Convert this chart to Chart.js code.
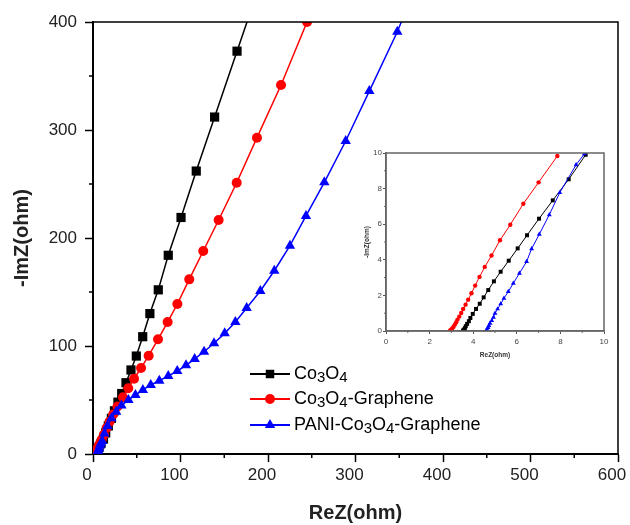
<!DOCTYPE html>
<html>
<head>
<meta charset="utf-8">
<script src="https://cdn.jsdelivr.net/npm/chart.js@4/dist/chart.umd.min.js"></script>
<style>
  html, body { margin: 0; padding: 0; background: #fff; }
  #wrap { position: relative; width: 630px; height: 525px; }
  #main { position: absolute; left: 0; top: 0; }
  #inset { position: absolute; left: 356px; top: 143px; }
</style>
</head>
<body>
<div id="wrap">
  <canvas id="main" width="630" height="525"></canvas>
  <canvas id="inset" width="254" height="222"></canvas>
</div>
<script>
// main plot, ohm
const co3o4Re = [3.6, 4.3, 5.3, 7.0, 9.2, 12, 14.5, 17.5, 21, 24.5, 28.5, 32.8, 37.7, 43.4, 49.5, 56.8, 65, 74.6, 86, 100.6, 118, 139, 164.6, 195];
const co3o4Im = [0.1, 1.5, 3.4, 6.3, 9.9, 14, 19.5, 26, 33, 40, 48, 56, 66, 77.8, 90.7, 108.6, 130, 152, 184, 219, 262, 312, 373, 445];

const grapheneRe = [2.9, 3.1, 3.5, 4.0, 4.5, 5.2, 6.3, 7.9, 10, 12.5, 15.5, 19, 23, 28, 34.3, 40.3, 46.9, 54.9, 63.6, 74.3, 85.3, 96.4, 110, 126, 143.6, 164.2, 187.4, 214.9, 244.6, 275];
const grapheneIm = [0.1, 0.5, 1.3, 2.5, 3.6, 5.1, 7.1, 9.8, 13.5, 18, 24, 30, 36.5, 44, 52.5, 60.8, 69.7, 79.6, 91, 106.2, 122.2, 138.9, 161.7, 188, 216.7, 251.2, 292.9, 341.7, 400, 462];

const paniRe = [4.6, 4.8, 5.0, 5.4, 6.1, 7.0, 8.0, 9.1, 10.5, 13, 16.5, 21, 26.5, 32.5, 40.5, 48.5, 57, 66, 75.8, 86, 96.3, 106.3, 116.2, 126.9, 138.3, 150.5, 162.7, 175.6, 191.2, 207.2, 225.1, 243.4, 264.4, 288.8, 315.8, 347.8, 380];
const paniIm = [0, 0.6, 1.0, 1.8, 3.2, 5.4, 7.8, 9.9, 12, 19, 26, 33, 39.2, 44.8, 50, 54.6, 59.3, 63.9, 67.9, 72.2, 76.8, 82.1, 88, 94.7, 102.5, 111.7, 122.2, 135.2, 150.9, 169.7, 192.9, 220.4, 251.6, 289.8, 336, 391, 455];

// inset (high frequency part)
const inCo3o4Re = [3.53, 3.57, 3.62, 3.66, 3.72, 3.8, 3.87, 3.98, 4.13, 4.3, 4.48, 4.69, 4.95, 5.26, 5.63, 6.04, 6.47, 7.02, 7.65, 8.38, 9.16];
const inCo3o4Im = [0.02, 0.08, 0.16, 0.27, 0.4, 0.55, 0.73, 0.96, 1.24, 1.53, 1.89, 2.3, 2.79, 3.33, 3.95, 4.64, 5.38, 6.31, 7.34, 8.52, 9.9];

const inGrapheneRe = [2.93, 2.98, 3.04, 3.1, 3.16, 3.22, 3.28, 3.36, 3.45, 3.54, 3.65, 3.77, 3.92, 4.09, 4.29, 4.53, 4.84, 5.23, 5.7, 6.3, 7.0, 7.86];
const inGrapheneIm = [0.02, 0.08, 0.15, 0.24, 0.36, 0.49, 0.64, 0.81, 1.01, 1.24, 1.48, 1.76, 2.12, 2.55, 3.04, 3.6, 4.24, 5.1, 5.97, 7.15, 8.35, 9.83];

const inPaniRe = [4.6, 4.63, 4.68, 4.72, 4.77, 4.85, 4.93, 5.0, 5.12, 5.26, 5.41, 5.61, 5.84, 6.12, 6.45, 6.68, 7.03, 7.49, 7.97, 8.72, 9.1];
const inPaniIm = [0.02, 0.1, 0.19, 0.3, 0.43, 0.58, 0.77, 0.99, 1.24, 1.52, 1.84, 2.21, 2.68, 3.24, 3.9, 4.62, 5.43, 6.53, 7.77, 9.34, 9.95];

const seriesNames = [
  [['Co', 0], ['3', 1], ['O', 0], ['4', 1]],
  [['Co', 0], ['3', 1], ['O', 0], ['4', 1], ['-Graphene', 0]],
  [['PANI-Co', 0], ['3', 1], ['O', 0], ['4', 1], ['-Graphene', 0]]
];
const xTitle = 'ReZ(ohm)';
const yTitle = '-ImZ(ohm)';

const FONT = "'Liberation Sans', Arial, sans-serif";

function pts(xs, ys) {
  return xs.map((x, i) => ({ x: x, y: ys[i] }));
}

function marker(ctx, style, x, y, r) {
  ctx.beginPath();
  if (style === 'rect') {
    const s = r * Math.SQRT1_2;
    ctx.rect(x - s, y - s, 2 * s, 2 * s);
  } else if (style === 'triangle') {
    ctx.moveTo(x, y - r);
    ctx.lineTo(x + r * 0.866, y + r * 0.5);
    ctx.lineTo(x - r * 0.866, y + r * 0.5);
    ctx.closePath();
  } else {
    ctx.arc(x, y, r, 0, Math.PI * 2);
  }
  ctx.fill();
}

// frame on top/right + minor ticks
const framePlugin = {
  id: 'frame',
  afterDatasetsDraw(chart, args, o) {
    const { ctx, chartArea: a, scales } = chart;
    const x = scales.x, y = scales.y;
    ctx.save();
    ctx.strokeStyle = o.color;
    ctx.lineWidth = o.width;
    ctx.beginPath();
    if (o.full) {
      ctx.moveTo(a.left, a.bottom);
      ctx.lineTo(a.left, a.top);
    } else {
      ctx.moveTo(a.left, a.top);
    }
    ctx.lineTo(a.right, a.top);
    ctx.lineTo(a.right, a.bottom);
    if (o.full) ctx.lineTo(a.left, a.bottom);
    ctx.stroke();

    ctx.lineWidth = o.tickWidth;
    ctx.beginPath();
    for (let v = o.minorX; v < x.max; v += o.minorX * 2) {
      const px = x.getPixelForValue(v);
      ctx.moveTo(px, a.bottom);
      ctx.lineTo(px, a.bottom + o.minorLen);
    }
    for (let v = o.minorY; v < y.max; v += o.minorY * 2) {
      const py = y.getPixelForValue(v);
      ctx.moveTo(a.left, py);
      ctx.lineTo(a.left - o.minorLen, py);
    }
    ctx.stroke();
    ctx.restore();
  }
};

// legend inside the plot, with subscripts
const legendPlugin = {
  id: 'innerLegend',
  afterDraw(chart) {
    const ctx = chart.ctx;
    const sets = chart.data.datasets;
    const rowsY = [374, 399, 425];
    ctx.save();
    sets.forEach((ds, i) => {
      const yy = rowsY[i];
      ctx.strokeStyle = ds.borderColor;
      ctx.fillStyle = ds.borderColor;
      ctx.lineWidth = 2;
      ctx.beginPath();
      ctx.moveTo(250, yy);
      ctx.lineTo(290, yy);
      ctx.stroke();
      marker(ctx, ds.pointStyle, 270, yy, ds.pointStyle === 'circle' ? 5 : 6);

      let tx = 294;
      ctx.fillStyle = '#000';
      ctx.textBaseline = 'middle';
      seriesNames[i].forEach(([txt, sub]) => {
        ctx.font = (sub ? '15px ' : '18px ') + FONT;
        ctx.fillText(txt, tx, sub ? yy + 4 : yy);
        tx += ctx.measureText(txt).width;
      });
    });
    ctx.restore();
  }
};

const mainColors = ['#000000', '#ff0000', '#0000ff'];

new Chart(document.getElementById('main'), {
  type: 'scatter',
  data: {
    datasets: [
      { label: 'Co3O4', data: pts(co3o4Re, co3o4Im), borderColor: mainColors[0], backgroundColor: mainColors[0],
        pointStyle: 'rect', pointRadius: 6.5, order: 3 },
      { label: 'Co3O4-Graphene', data: pts(grapheneRe, grapheneIm), borderColor: mainColors[1], backgroundColor: mainColors[1],
        pointStyle: 'circle', pointRadius: 5, order: 2 },
      { label: 'PANI-Co3O4-Graphene', data: pts(paniRe, paniIm), borderColor: mainColors[2], backgroundColor: mainColors[2],
        pointStyle: 'triangle', pointRadius: 6, order: 1 }
    ].map(d => Object.assign(d, { showLine: true, borderWidth: 1.5, pointBorderWidth: 0, tension: 0 }))
  },
  options: {
    responsive: false,
    animation: false,
    events: [],
    layout: { padding: { top: 22, right: 12, left: 0, bottom: 0 } },
    plugins: {
      legend: { display: false },
      tooltip: { enabled: false },
      frame: { color: '#000', width: 1.5, tickWidth: 1.5, minorX: 50, minorY: 50, minorLen: 4 }
    },
    scales: {
      x: {
        type: 'linear', min: 0, max: 600,
        ticks: { stepSize: 100, color: '#222', font: { family: FONT, size: 17 }, padding: 3, maxRotation: 0, labelOffset: -6 },
        grid: { drawOnChartArea: false, drawTicks: true, tickLength: 8, tickColor: '#000', tickWidth: 1.5 },
        border: { display: true, color: '#000', width: 2 },
        title: { display: true, text: xTitle, color: '#222', font: { family: FONT, size: 20, weight: 'bold' }, padding: { top: 0, bottom: 0 } },
        afterFit(s) { s.height = 71; s.paddingRight = 0; s.paddingLeft = 0; }
      },
      y: {
        type: 'linear', min: 0, max: 400,
        ticks: { stepSize: 100, color: '#222', font: { family: FONT, size: 17 }, padding: 8 },
        grid: { drawOnChartArea: false, drawTicks: true, tickLength: 8, tickColor: '#000', tickWidth: 1.5 },
        border: { display: true, color: '#000', width: 2 },
        title: { display: true, text: yTitle, color: '#222', font: { family: FONT, size: 20, weight: 'bold' }, padding: { top: 10, bottom: 0 } },
        afterFit(s) { s.width = 93; s.paddingTop = 0; s.paddingBottom = 0; }
      }
    }
  },
  plugins: [framePlugin, legendPlugin]
});

new Chart(document.getElementById('inset'), {
  type: 'scatter',
  data: {
    datasets: [
      { data: pts(inCo3o4Re, inCo3o4Im), borderColor: mainColors[0], backgroundColor: mainColors[0], pointStyle: 'rect', pointRadius: 2.8, order: 3 },
      { data: pts(inGrapheneRe, inGrapheneIm), borderColor: mainColors[1], backgroundColor: mainColors[1], pointStyle: 'circle', pointRadius: 2.2, order: 2 },
      { data: pts(inPaniRe, inPaniIm), borderColor: mainColors[2], backgroundColor: mainColors[2], pointStyle: 'triangle', pointRadius: 2.8, order: 1 }
    ].map(d => Object.assign(d, { showLine: true, borderWidth: 1, pointBorderWidth: 0, tension: 0 }))
  },
  options: {
    responsive: false,
    animation: false,
    events: [],
    layout: { padding: { top: 10, right: 6, left: 0, bottom: 0 } },
    plugins: {
      legend: { display: false },
      tooltip: { enabled: false },
      frame: { color: '#666', width: 1.5, tickWidth: 1, minorX: 1, minorY: 1, minorLen: 2, full: true }
    },
    scales: {
      x: {
        type: 'linear', min: 0, max: 10,
        ticks: { stepSize: 2, color: '#444', font: { family: FONT, size: 8 }, padding: 3, maxRotation: 0 },
        grid: { drawOnChartArea: false, drawTicks: true, tickLength: 3, tickColor: '#555', tickWidth: 1 },
        border: { display: true, color: '#666', width: 1.5 },
        title: { display: true, text: xTitle, color: '#333', font: { family: FONT, size: 6.5, weight: 'bold' }, padding: { top: 0, bottom: 6 } },
        afterFit(s) { s.height = 34; s.paddingRight = 0; s.paddingLeft = 0; }
      },
      y: {
        type: 'linear', min: 0, max: 10,
        ticks: { stepSize: 2, color: '#444', font: { family: FONT, size: 8 }, padding: 1 },
        grid: { drawOnChartArea: false, drawTicks: true, tickLength: 3, tickColor: '#555', tickWidth: 1 },
        border: { display: true, color: '#666', width: 1.5 },
        title: { display: true, text: yTitle, color: '#333', font: { family: FONT, size: 6.5, weight: 'bold' }, padding: { top: 7, bottom: 0 } },
        afterFit(s) { s.width = 30; s.paddingTop = 0; s.paddingBottom = 0; }
      }
    }
  },
  plugins: [framePlugin]
});
</script>
</body>
</html>
